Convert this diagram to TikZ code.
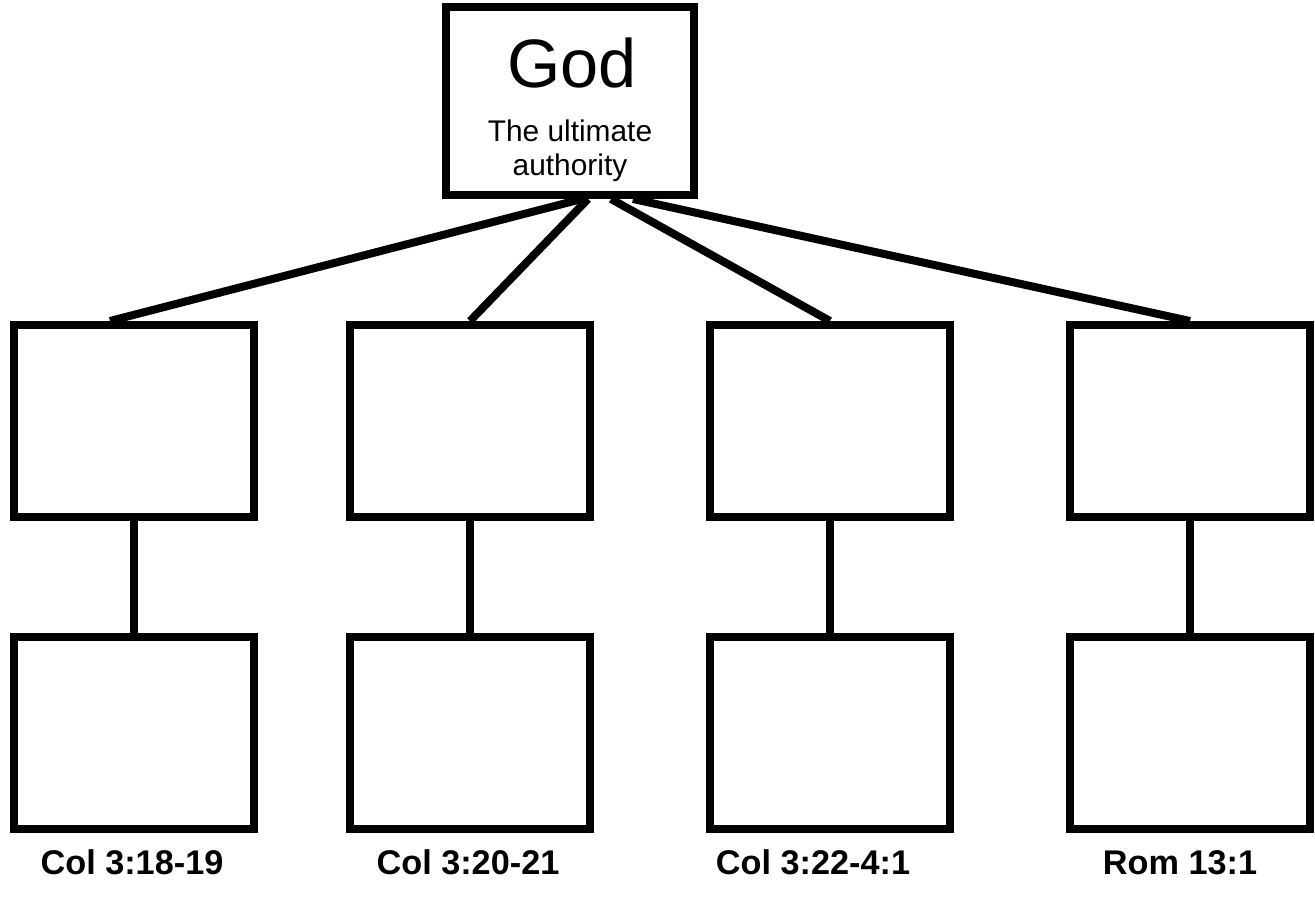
\documentclass[tikz,border=0pt]{standalone}
\usepackage{fontspec}
\setmainfont{Liberation Sans}
\usetikzlibrary{positioning}
\tikzset{
    rolebox/.style={draw, line width=4.55pt, minimum width=4.8cm, minimum height=3.84cm, inner sep=0pt},
    godbox/.style={draw, line width=4.55pt, minimum width=4.96cm, minimum height=3.76cm, inner sep=0pt},
    link/.style={line width=4.55pt},
    verse/.style={font=\bfseries\fontsize{19.5}{22}\selectfont, anchor=base},
}

\begin{document}
\begin{tikzpicture}[x=0.02cm, y=-0.02cm]
\useasboundingbox (0,0) rectangle (1315,901);
\node[godbox] (god) at (570,101) {};
\node[font=\fontsize{39}{42}\selectfont, anchor=base] (godname) at (572,88) {God};
\node[font=\fontsize{17}{19}\selectfont, anchor=base] (godnote) at (570,142) {The ultimate};
\node[font=\fontsize{17}{19}\selectfont, anchor=base] (godnotetwo) at (570,176) {authority};
\foreach \n/\x/\s/\e/\lx/\txt in {1/134/12/-24/132/{Col 3:18-19}, 2/470/18/0/468/{Col 3:20-21}, 3/830/41/0/813/{Col 3:22-4:1}, 4/1190/63/0/1180/{Rom 13:1}}
{
    \node[rolebox] (upper\n) at (\x,421) {};
    \node[rolebox] (lower\n) at (\x,733) {};
    \draw[link] (god.south) ++(\s,0) -- ([xshift=\e*0.02cm]upper\n.north);
    \draw[link] (upper\n.south) -- (lower\n.north);
    \node[verse] (verse\n) at (\lx,874) {\txt};
}
\end{tikzpicture}
\end{document}
